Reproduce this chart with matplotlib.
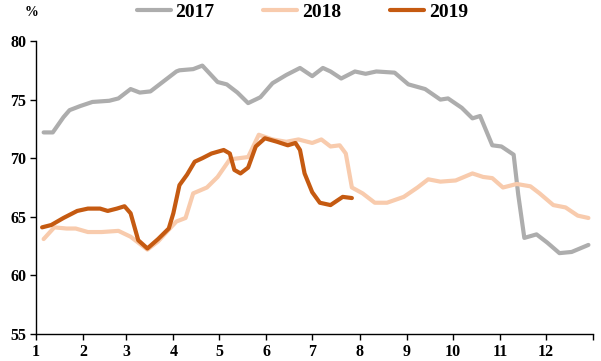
"""
Monthly share chart, 2017-2019
"""

import matplotlib
matplotlib.use('Agg')
import matplotlib.pyplot as plt

#---------------------------------------------------------------------------------------------------
# Input data (x = day of year, y = %)
#---------------------------------------------------------------------------------------------------

day_2017 = [5, 11, 18, 22, 29, 37, 48, 54, 62, 68, 75, 83, 92, 94, 103, 109, 119, 125, 132, 139,
            147, 155, 164, 173, 181, 188, 193, 200, 209, 216, 223, 235, 244, 255, 265, 270, 279, 286,
            291, 299, 305, 313, 316, 320, 328, 335, 343, 351, 362]
val_2017 = [72.2, 72.2, 73.5, 74.1, 74.45, 74.8, 74.9, 75.1, 75.9, 75.6, 75.7, 76.5, 77.4, 77.5,
            77.6, 77.9, 76.5, 76.3, 75.6, 74.7, 75.2, 76.4, 77.1, 77.7, 77.0, 77.7, 77.4, 76.8, 77.4,
            77.2, 77.4, 77.3, 76.3, 75.9, 75.0, 75.1, 74.3, 73.4, 73.6, 71.1, 71.0, 70.3, 66.9, 63.2,
            63.5, 62.8, 61.9, 62.0, 62.6]

day_2018 = [5, 12, 20, 26, 34, 43, 54, 62, 73, 80, 87, 92, 98, 103, 112, 119, 127, 139, 146, 155,
            164, 172, 181, 187, 193, 199, 203, 207, 214, 222, 230, 241, 250, 257, 265, 275, 286, 293,
            299, 306, 315, 324, 330, 339, 347, 355, 362]
val_2018 = [63.1, 64.1, 64.0, 64.0, 63.7, 63.7, 63.8, 63.3, 62.2, 62.9, 63.9, 64.6, 64.9, 67.0,
            67.5, 68.4, 69.9, 70.1, 72.0, 71.6, 71.4, 71.6, 71.3, 71.6, 71.0, 71.1, 70.4, 67.5, 67.0,
            66.2, 66.2, 66.7, 67.5, 68.2, 68.0, 68.1, 68.7, 68.4, 68.3, 67.5, 67.8, 67.6, 67.0, 66.0,
            65.8, 65.1, 64.9]

day_2019 = [4, 10, 18, 27, 34, 42, 47, 53, 58, 62, 67, 73, 80, 87, 90, 94, 99, 104, 109, 115, 123,
            127, 130, 134, 139, 144, 150, 158, 165, 170, 173, 176, 181, 186, 193, 201, 207]
val_2019 = [64.1, 64.3, 64.9, 65.5, 65.7, 65.7, 65.5, 65.7, 65.9, 65.3, 63.0, 62.3, 63.1, 64.0,
            65.3, 67.7, 68.6, 69.7, 70.0, 70.4, 70.7, 70.4, 69.0, 68.7, 69.2, 71.0, 71.7, 71.4, 71.1,
            71.3, 70.7, 68.7, 67.1, 66.2, 66.0, 66.7, 66.6]

# Month starts (day of year) and labels
month_start = [0, 31, 59, 90, 120, 151, 181, 212, 243, 273, 304, 334, 365]
month_lbl = ['1', '2', '3', '4', '5', '6', '7', '8', '9', '10', '11', '12', '']

series = [('2017', day_2017, val_2017, '#ADADAD'),
          ('2018', day_2018, val_2018, '#F8CBAD'),
          ('2019', day_2019, val_2019, '#C55A11')]

#---------------------------------------------------------------------------------------------------
# Main Program
#---------------------------------------------------------------------------------------------------

plt.rcParams['font.family'] = ['Liberation Serif', 'DejaVu Serif']
plt.rcParams['font.weight'] = 'bold'

fig = plt.figure(figsize=(6.01, 3.61), dpi=100)
ax = fig.add_axes([36/601, 1 - 334/361, 557/601, 293/361])

for name, d, v, c in series:
    ax.plot(d, v, color=c, lw=3, label=name, solid_capstyle='round', solid_joinstyle='round')

ax.set_xlim(0, 365)
ax.set_ylim(55, 80)
ax.set_xticks(month_start)
ax.set_xticklabels(month_lbl)
ax.set_yticks([55, 60, 65, 70, 75, 80])
for s in ['top', 'right']:
    ax.spines[s].set_visible(False)
for s in ['left', 'bottom']:
    ax.spines[s].set_linewidth(1.0)
ax.tick_params(axis='both', length=4, width=1, labelsize=11.5, pad=3)
for lbl in ax.get_xticklabels() + ax.get_yticklabels():
    lbl.set_fontweight('bold')

fig.text(32/601, 1 - 13/361, '%', ha='center', va='center', fontsize=10, fontweight='bold')

leg = ax.legend(ncol=3, loc='center', bbox_to_anchor=(0.478, 1.099), frameon=False,
                prop={'size': 14, 'weight': 'bold'}, handlelength=1.75, columnspacing=2.5,
                handletextpad=0.25, borderpad=0.2)

plt.savefig('out.png', dpi=100)
plt.close()
